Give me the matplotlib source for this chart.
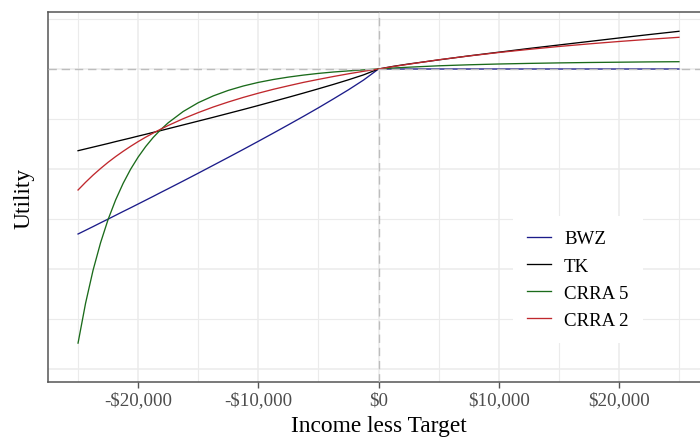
import matplotlib
matplotlib.use("Agg")
import matplotlib.pyplot as plt
from matplotlib.lines import Line2D

plt.rcParams["font.family"] = ["Liberation Serif", "DejaVu Serif"]

# ========== DATA ========== #
income = [-25000, -24375, -23750, -23125, -22500, -21875, -21250, -20625,
          -20000, -19375, -18750, -18125, -17500, -16250, -15000, -13750,
          -12500, -11250, -10000, -8750, -7500, -6250, -5000, -3750,
          -2500, -1250, 0,
          1250, 2500, 5000, 7500, 10000, 12500, 15000, 17500, 20000, 22500, 25000]

bwz = [-16.5, -16.13, -15.76, -15.38, -15.01, -14.63, -14.25, -13.88,
       -13.50, -13.12, -12.74, -12.35, -11.97, -11.20, -10.42, -9.63,
       -8.84, -8.04, -7.23, -6.41, -5.58, -4.74, -3.88, -2.99,
       -2.08, -1.11, 0,
       0, 0, 0, 0, 0, 0, 0, 0, 0, 0, 0]
tk = [-8.17, -7.99, -7.81, -7.63, -7.45, -7.26, -7.08, -6.90,
      -6.71, -6.53, -6.34, -6.16, -5.97, -5.59, -5.21, -4.83,
      -4.44, -4.05, -3.65, -3.24, -2.83, -2.41, -1.98, -1.54,
      -1.08, -0.59, 0,
      0.27, 0.50, 0.91, 1.31, 1.68, 2.05, 2.40, 2.75, 3.10, 3.44, 3.77]
crra5 = [-27.41, -23.43, -20.12, -17.37, -15.05, -13.10, -11.44, -10.02,
         -8.81, -7.76, -6.85, -6.07, -5.38, -4.25, -3.37, -2.69,
         -2.14, -1.70, -1.34, -1.05, -0.81, -0.61, -0.44, -0.30,
         -0.19, -0.09, 0,
         0.10, 0.18, 0.32, 0.42, 0.50, 0.56, 0.61, 0.65, 0.68, 0.71, 0.73]
crra2 = [-12.10, -11.33, -10.61, -9.95, -9.33, -8.76, -8.23, -7.73,
         -7.26, -6.82, -6.41, -6.02, -5.65, -4.97, -4.36, -3.80,
         -3.30, -2.84, -2.42, -2.03, -1.68, -1.34, -1.04, -0.75,
         -0.48, -0.23, 0,
         0.25, 0.48, 0.92, 1.30, 1.65, 1.96, 2.25, 2.51, 2.75, 2.97, 3.17]

series_names = ["BWZ", "TK", "CRRA 5", "CRRA 2"]
series_colors = ["#1c1c8a", "#000000", "#1b6b1b", "#c0282d"]

x_major = [-20000, -10000, 0, 10000, 20000]
x_major_labels = ["-$20,000", "-$10,000", "$0", "$10,000", "$20,000"]
x_minor = [-25000, -15000, -5000, 5000, 15000, 25000]
y_major = [-30, -20, -10, 0]
y_minor = [-25, -15, -5, 5]

# ========== FIGURE ========== #
fig = plt.figure(figsize=(7.0, 4.39), dpi=100)
ax = fig.add_axes([48 / 700, 1 - 383 / 439, 661 / 700, 370 / 439])

grid_col = "#ebebeb"
ax.set_xticks(x_major)
ax.set_xticklabels(x_major_labels)
ax.set_xticks(x_minor, minor=True)
ax.set_yticks(y_major)
ax.set_yticklabels([])
ax.set_yticks(y_minor, minor=True)
ax.grid(True, which="major", color=grid_col, linewidth=1.1, zorder=0)
ax.grid(True, which="minor", color=grid_col, linewidth=0.8, zorder=0)
ax.set_axisbelow(True)

for name, vals, col in zip(series_names, [bwz, tk, crra5, crra2], series_colors):
    ax.plot(income, vals, color=col, linewidth=0.95, label=name, zorder=2,
            solid_joinstyle="round")

# reference lines at the target
ax.axhline(0, color="#bdbdbd", linewidth=1.0, dashes=(6, 3.5), zorder=3)
ax.axvline(0, color="#bdbdbd", linewidth=1.0, dashes=(6, 3.5), zorder=3)

ax.set_xlim(-27500, 27500)
ax.set_ylim(-31.3, 5.7)

for side in ["left", "bottom", "top", "right"]:
    ax.spines[side].set_color("#555555")
    ax.spines[side].set_linewidth(1.1)

ax.tick_params(axis="x", which="major", length=4, width=1.0, color="#555555",
               labelsize=13.6, labelcolor="#4d4d4d", pad=2.5)
ax.tick_params(axis="x", which="minor", length=0)
ax.tick_params(axis="y", which="both", length=0)

fig.text(378.5 / 700, 1 - 427 / 439, "Income less Target", fontsize=16.8,
         ha="center", va="center")
fig.text(24 / 700, 1 - 198 / 439, "Utility", fontsize=16.8, rotation=90,
         ha="center", va="center")

handles = [Line2D([0], [0], color=c, linewidth=0.95) for c in series_colors]
leg = ax.legend(handles, series_names, loc="upper left",
                bbox_to_anchor=(513 / 700, 1 - 217 / 439),
                bbox_transform=fig.transFigure, fontsize=13.6, frameon=True,
                fancybox=False, borderpad=0.75, borderaxespad=0,
                handlelength=1.25, handletextpad=0.7, labelspacing=0.53)
leg.get_frame().set_facecolor("white")
leg.get_frame().set_edgecolor("none")
leg.get_frame().set_alpha(1.0)
leg.set_zorder(5)

plt.savefig("out.png", dpi=100)
plt.close()
